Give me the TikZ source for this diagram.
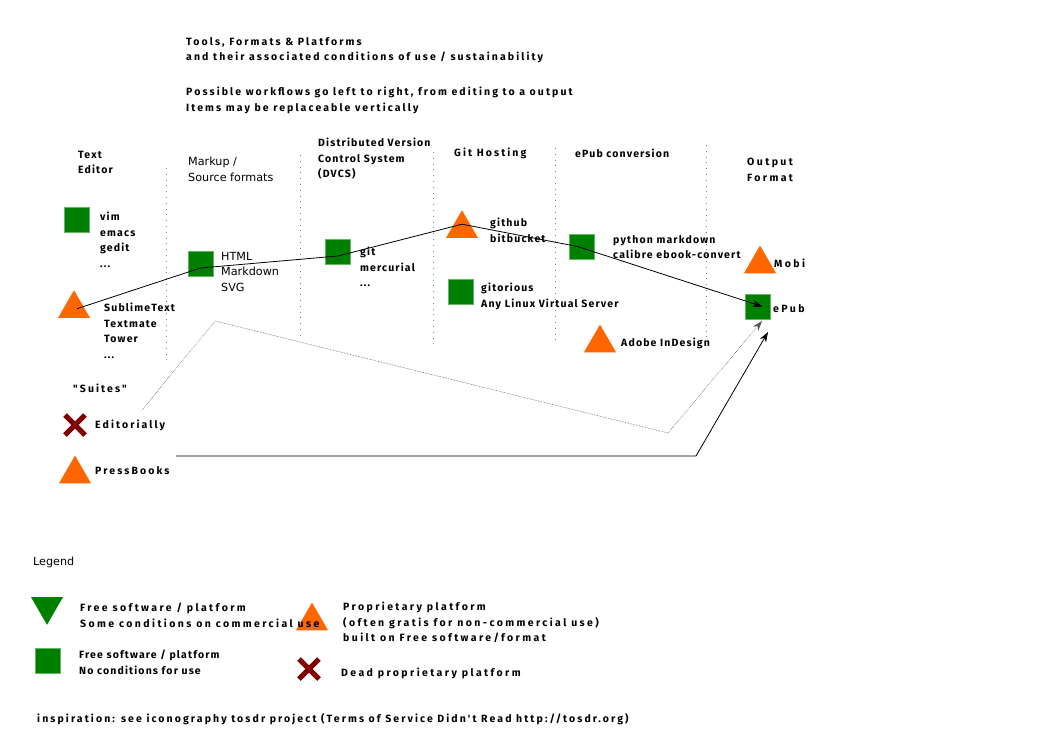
\documentclass[tikz,border=0pt]{standalone}
\usepackage{fontspec}
\usepackage{tikz}
\usetikzlibrary{shapes.geometric,shapes.misc,arrows.meta}
\setmainfont{DejaVu Sans}
\newfontfamily\itemfont[LetterSpace=11]{Fira Sans}
\newfontfamily\spacedfont[LetterSpace=20]{Fira Sans}
\newfontfamily\widefont[LetterSpace=23]{Fira Sans}
\definecolor{freegreen}{HTML}{008000}
\definecolor{proporange}{HTML}{FF6600}
\definecolor{deadred}{HTML}{800000}

\tikzset{
  lbl/.style={anchor=north west, inner sep=0pt, align=left,
    font=\itemfont\bfseries\fontsize{10.5}{15.5}\selectfont},
  spaced/.style={lbl, font=\spacedfont\bfseries\fontsize{10.5}{15.5}\selectfont},
  wide/.style={lbl, font=\widefont\bfseries\fontsize{10.5}{15.5}\selectfont},
  plain/.style={anchor=north west, inner sep=0pt, align=left,
    font=\fontsize{11.2}{15.5}\selectfont},
  freesq/.style={draw=freegreen!60!white, line width=0.6pt, fill=freegreen,
    minimum size=25pt, inner sep=0pt},
  proptri/.style={regular polygon, regular polygon sides=3, fill=proporange,
    minimum size=37pt, inner sep=0pt},
  freetri/.style={proptri, shape border rotate=180, fill=freegreen},
  deadx/.style={cross out, draw=deadred, line width=5pt, minimum size=15pt,
    inner sep=0pt},
  colsep/.style={gray, line width=0.8pt, dash pattern=on 0.8pt off 5pt},
  flow/.style={-{Stealth[length=10pt,width=7pt]}, line width=0.8pt},
  suiteflow/.style={-{Stealth[length=10pt,width=7pt]}, gray!70!black,
    line width=0.6pt, densely dotted}
}

\begin{document}
\begin{tikzpicture}[x=1pt,y=-1pt]
    \useasboundingbox (0,0) rectangle (1052,744);
    % headings
    \node[spaced] (title) at (186,37) {Tools, Formats \& Platforms\\and their associated conditions of use / sustainability};
    \node[spaced] (workflow) at (186,87) {Possible workflows go left to right, from editing to a output\\Items may be replaceable vertically};
    \node[lbl] (editorhead) at (78,151) {Text\\Editor};
    \node[plain] (markuphead) at (188,157) {Markup /\\Source formats};
    \node[lbl] (dvcshead) at (318,138) {Distributed Version\\Control System\\(DVCS)};
    \node[spaced] (hostinghead) at (454,148) {Git Hosting};
    \node[lbl] (epubhead) at (575,149) {ePub conversion};
    \node[wide] (outputhead) at (747,158) {Output\\Format};
    % column separators
    \foreach \x/\top/\bot in {166/168/360,300/155/338,433/152/345,555/148/342,706/145/337}
        \draw[colsep] (\x,\top) -- (\x,\bot);
    % tools
    \node[freesq] (vim) at (76.5,219.5) {};
    \node[lbl] (vimtext) at (100,212) {vim\\emacs\\gedit\\...};
    \node[proptri] (sublime) at (74,308.7) {};
    \node[lbl] (sublimetext) at (104,303) {SublimeText\\Textmate\\Tower\\...};
    \node[freesq] (html) at (200.5,263.5) {};
    \node[plain] (htmltext) at (221,252) {HTML\\Markdown\\SVG};
    \node[freesq] (git) at (338,252) {};
    \node[lbl] (gittext) at (360,247) {git\\mercurial\\...};
    \node[proptri] (github) at (462,228.7) {};
    \node[lbl] (githubtext) at (490,218) {github\\bitbucket};
    \node[freesq] (gitorious) at (460.5,291.5) {};
    \node[lbl] (gitorioustext) at (481,283) {gitorious\\Any Linux Virtual Server};
    \node[freesq] (python) at (581.5,246.5) {};
    \node[lbl] (pythontext) at (613,235) {python markdown\\calibre ebook-convert};
    \node[proptri] (adobe) at (600,343) {};
    \node[lbl] (adobetext) at (621,338) {Adobe InDesign};
    \node[proptri] (mobi) at (760,264) {};
    \node[wide] (mobitext) at (774,259) {Mobi};
    \node[freesq] (epub) at (757.5,306.5) {};
    \node[wide] (epubtext) at (773,304) {ePub};
    % suites
    \node[spaced] (suites) at (73,384) {"Suites"};
    \node[deadx] (editorially) at (75,425) {};
    \node[spaced] (editoriallytext) at (95,420) {Editorially};
    \node[proptri] (pressbooks) at (75,474) {};
    \node[spaced] (pressbookstext) at (95,466) {PressBooks};
    % workflows
    \draw[flow] ([xshift=3pt]sublime.center) -- ([yshift=-4.5pt]html.center)
        -- ([yshift=-4pt]git.center) -- ([yshift=4.5pt]github.center)
        -- ([xshift=-4pt]python.center) -- ([xshift=5pt]epub.center);
    \coordinate (editoriallyout) at (142,410);
    \coordinate (suitebend1) at (215,321);
    \coordinate (suitebend2) at (668,433);
    \coordinate (epubin1) at (762,321);
    \draw[suiteflow] (editoriallyout) -- (suitebend1) -- (suitebend2) -- (epubin1);
    \coordinate (pressbooksout) at (176,456);
    \coordinate (pressbend) at (696,456);
    \coordinate (epubin2) at (768,332);
    \draw[flow] (pressbooksout) -- (pressbend) -- (epubin2);
    % legend
    \node[plain] (legend) at (33,557) {Legend};
    \node[proptri] (legprop) at (312,621) {};
    \node[freetri] (legtri) at (47,606.3) {};
    \node[wide] (legtritext) at (80,603) {Free software / platform\\Some conditions on commercial use};
    \node[freesq] (legsq) at (47.5,660.5) {};
    \node[lbl] (legsqtext) at (79,650) {Free software / platform\\No conditions for use};
    \node[wide] (legproptext) at (343,602) {Proprietary platform\\(often gratis for non-commercial use)\\built on Free software/format};
    \node[deadx] (legdead) at (309,669) {};
    \node[wide] (legdeadtext) at (341,668) {Dead proprietary platform};
    \node[spaced] (inspiration) at (37,713) {inspiration: see iconography tosdr project (Terms of Service Didn't Read http://tosdr.org)};
\end{tikzpicture}
\end{document}
